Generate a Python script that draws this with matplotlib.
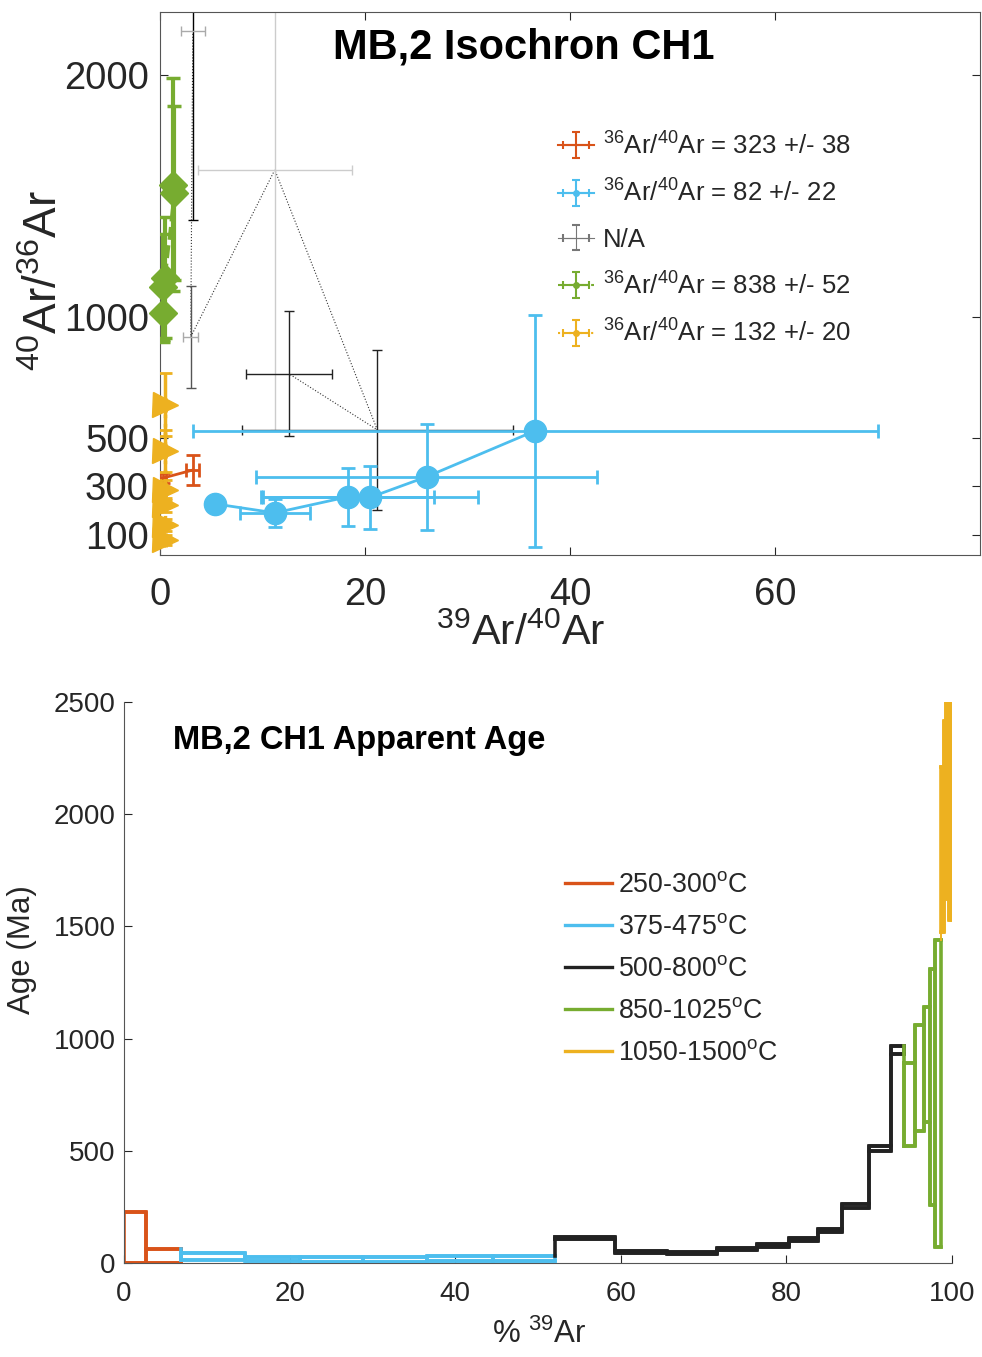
import numpy as np
import matplotlib
matplotlib.use('Agg')
import matplotlib.pyplot as plt
from matplotlib.lines import Line2D
from matplotlib.patches import Rectangle

plt.rcParams['font.family'] = ['Liberation Sans', 'DejaVu Sans']
plt.rcParams['mathtext.fontset'] = 'custom'
plt.rcParams['mathtext.rm'] = 'Liberation Sans'
plt.rcParams['mathtext.it'] = 'Liberation Sans'
plt.rcParams['mathtext.default'] = 'regular'

C_OR = '#D95319'
C_BL = '#4DBEEE'
C_BK = '#000000'
C_GR = '#77AC30'
C_GO = '#EDB120'
AXC = '#262626'

# ---------------- Isochron data (39Ar/40Ar, 40Ar/36Ar) ----------------
or_x = [0.3, 3.2]
or_y = [335, 368]
or_xerr = [0.3, 0.63]
or_yerr = [20, 62]

bl_x = [5.4, 11.2, 18.3, 20.5, 26.0, 36.6]
bl_y = [228, 191, 257, 255, 340, 530]
bl_xerr = [0.4, 3.4, 8.4, 10.5, 16.6, 33.4]
bl_yerr = [15, 58, 120, 130, 220, 480]

bk_x = [3.2, 3.0, 11.2, 21.2, 12.6]
bk_y = [2182, 918, 1608, 534, 765]
bk_xerr = [1.2, 0.75, 7.5, 13.2, 4.2]
bk_yerr = [781, 212, 1074, 330, 258]
bk_vcol = ['#000000', '#555555', '#cccccc', '#222222', '#222222']
bk_hcol = ['#aaaaaa', '#aaaaaa', '#cccccc', '#222222', '#222222']

gr_x = [0.3, 0.3, 0.5, 1.4, 1.3]
gr_y = [1017, 1125, 1162, 1513, 1546]
gr_xerr = [0.1, 0.1, 0.1, 0.15, 0.15]
gr_yerr = [120, 220, 250, 360, 440]

go_x = [0.5, 0.5, 0.5, 0.5, 0.5, 0.5]
go_y = [637, 447, 286, 224, 141, 79]
go_xerr = [0.1, 0.1, 0.1, 0.1, 0.1, 0.1]
go_yerr = [130, 87, 40, 30, 25, 20]

iso_labels = ['$^{36}$Ar/$^{40}$Ar = 323 +/- 38',
              '$^{36}$Ar/$^{40}$Ar = 82 +/- 22',
              'N/A',
              '$^{36}$Ar/$^{40}$Ar = 838 +/- 52',
              '$^{36}$Ar/$^{40}$Ar = 132 +/- 20']

# ---------------- Age spectrum data ----------------
sp_or_edges = [0.0, 2.7, 6.9]
sp_or_lo = [0, 0]
sp_or_hi = [226, 62]

sp_bl_edges = [6.9, 14.6, 21.3, 28.9, 36.6, 44.6, 52.0]
sp_bl_lo = [13, 7, 6, 5, 8, 11]
sp_bl_hi = [45, 28, 27, 26, 29, 32]

sp_bk_edges = [52.0, 59.3, 65.6, 71.6, 76.4, 80.3, 83.8, 86.7, 90.0, 92.6, 94.2]
sp_bk_lo = [108, 46, 41, 57, 72, 98, 137, 245, 498, 931]
sp_bk_hi = [116, 54, 49, 67, 84, 112, 153, 265, 521, 967]

sp_gr_edges = [94.2, 95.5, 96.6, 97.3, 98.0, 98.7]
sp_gr_lo = [520, 590, 630, 260, 70]
sp_gr_hi = [890, 1060, 1140, 1310, 1440]

sp_go_edges = [98.7, 99.0, 99.3, 99.6, 100.0]
sp_go_lo = [1475, 1624, 2063, 1528]
sp_go_hi = [2212, 2414, 2600, 2600]

sp_labels = ['250-300$^{o}$C', '375-475$^{o}$C', '500-800$^{o}$C',
             '850-1025$^{o}$C', '1050-1500$^{o}$C']

fig = plt.figure(figsize=(9.82, 13.57), dpi=100)

# ======================= Top: isochron =======================
ax1 = fig.add_axes([160/982, 1-555/1357, 820/982, 543/1357])

# black (N/A) steps
ax1.plot(bk_x, bk_y, ls=':', color='#333333', lw=0.8, zorder=2)
for x, y, xe, ye, vc, hc in zip(bk_x, bk_y, bk_xerr, bk_yerr, bk_vcol, bk_hcol):
    ax1.errorbar([x], [y], yerr=[ye], fmt='none', ecolor=vc, elinewidth=1.0,
                 capsize=3.5, capthick=1.0, zorder=2)
    ax1.errorbar([x], [y], xerr=[xe], fmt='none', ecolor=hc, elinewidth=1.0,
                 capsize=3.5, capthick=1.0, zorder=2)

# blue
ax1.errorbar(bl_x, bl_y, xerr=bl_xerr, yerr=bl_yerr, color=C_BL, ls='-', lw=2,
             marker='o', ms=16, mec=C_BL, mfc=C_BL, elinewidth=2, capsize=5,
             capthick=2, zorder=3)
# orange
ax1.errorbar(or_x, or_y, xerr=or_xerr, yerr=or_yerr, color=C_OR, ls='-', lw=2,
             elinewidth=2, capsize=5, capthick=2, zorder=4)
# green
ax1.errorbar(gr_x, gr_y, xerr=gr_xerr, yerr=gr_yerr, color=C_GR, ls='--', lw=2.5,
             elinewidth=3, capsize=5, capthick=2.5, zorder=4)
ax1.plot(gr_x, gr_y, ls='none', marker='D', ms=14, color=C_GR, clip_on=False,
         zorder=5)
# gold
ax1.errorbar(go_x, go_y, xerr=go_xerr, yerr=go_yerr, color=C_GO, ls=':', lw=2.5,
             elinewidth=2.5, capsize=5, capthick=2, zorder=4)
ax1.plot(go_x, go_y, ls='none', marker='>', ms=18, color=C_GO, clip_on=False,
         zorder=5)

ax1.set_xlim(0, 80)
ax1.set_ylim(17, 2260)
ax1.set_xticks([0, 20, 40, 60])
ax1.set_yticks([100, 300, 500, 1000, 2000])
ax1.tick_params(direction='in', length=6, width=0.8, top=True, right=True,
                labelsize=27.5, colors=AXC, labelcolor=AXC)
ax1.tick_params(axis='x', pad=16)
ax1.tick_params(axis='y', pad=8)
for s in ax1.spines.values():
    s.set_color('#555555')
    s.set_linewidth(0.8)

ax1.set_xlabel('$^{39}$Ar/$^{40}$Ar', fontsize=31, color=AXC)
ax1.xaxis.set_label_coords(0.44, -0.145)
ax1.xaxis.label.set_va('center')
ax1.set_ylabel('$^{40}$Ar/$^{36}$Ar', fontsize=33, color=AXC)
ax1.yaxis.set_label_coords(-0.14, 0.505)
ax1.yaxis.label.set_va('center')
ax1.text(0.443, 0.934, 'MB,2 Isochron CH1', transform=ax1.transAxes,
         fontsize=30, fontweight='bold', ha='center', va='center', color='black')

# legend proxies
proxies = []
specs = [(C_OR, '-', ''), (C_BL, '-', '.'), ('#777777', '-', ''),
         (C_GR, '--', '.'), (C_GO, ':', '.')]
for col, ls, mk in specs:
    h = ax1.errorbar([np.nan], [np.nan], xerr=[1], yerr=[1], color=col, ls=ls,
                     marker=mk, ms=8, lw=1.5 if col != '#777777' else 0.8,
                     elinewidth=1.5 if col != '#777777' else 0.8,
                     capsize=3, capthick=1.5)
    proxies.append(h)
leg1 = ax1.legend(proxies, iso_labels, loc='upper left',
                  bbox_to_anchor=(0.485, 0.779), frameon=False, fontsize=18.5,
                  handlelength=1.4, handletextpad=0.35, labelspacing=0.8,
                  borderpad=0, borderaxespad=0)
for t in leg1.get_texts():
    t.set_color(AXC)

# ======================= Bottom: age spectrum =======================
ax2 = fig.add_axes([124/982, 1-1263/1357, 828/982, 561/1357])

groups = [(sp_or_edges, sp_or_lo, sp_or_hi, C_OR),
          (sp_bl_edges, sp_bl_lo, sp_bl_hi, C_BL),
          (sp_bk_edges, sp_bk_lo, sp_bk_hi, '#222222'),
          (sp_gr_edges, sp_gr_lo, sp_gr_hi, C_GR),
          (sp_go_edges, sp_go_lo, sp_go_hi, C_GO)]
LW = 2.6
prev_hi = 0
for gi, (edges, lo, hi, col) in enumerate(groups):
    z = 2 + gi
    for i in range(len(lo)):
        ax2.add_patch(Rectangle((edges[i], lo[i]), edges[i+1]-edges[i],
                                hi[i]-lo[i], fill=False, ec=col, lw=LW,
                                zorder=z))
    xs = np.repeat(edges, 2)[1:-1]
    ax2.plot(xs, np.repeat(hi, 2), color=col, lw=LW, zorder=z)
    ax2.plot(xs, np.repeat(lo, 2), color=col, lw=LW, zorder=z)
    if gi > 0:
        ax2.plot([edges[0], edges[0]], [prev_hi, hi[0] if gi == 4 else lo[0]],
                 color=col, lw=LW if gi != 4 else 1.4, zorder=z)
    prev_hi = hi[-1]

ax2.set_xlim(0, 100)
ax2.set_ylim(0, 2500)
ax2.set_xticks([0, 20, 40, 60, 80, 100])
ax2.set_yticks([0, 500, 1000, 1500, 2000, 2500])
ax2.spines['top'].set_visible(False)
ax2.spines['right'].set_visible(False)
for s in ['left', 'bottom']:
    ax2.spines[s].set_color('#555555')
    ax2.spines[s].set_linewidth(0.8)
ax2.tick_params(direction='in', length=6, width=0.8, labelsize=20,
                colors=AXC, labelcolor=AXC)
ax2.tick_params(axis='x', pad=13)
ax2.tick_params(axis='y', pad=6)
ax2.set_xlabel('% $^{39}$Ar', fontsize=22.5, color=AXC)
ax2.xaxis.set_label_coords(0.502, -0.128)
ax2.xaxis.label.set_va('center')
ax2.set_ylabel('Age (Ma)', fontsize=22.5, color=AXC)
ax2.yaxis.set_label_coords(-0.123, 0.558)
ax2.yaxis.label.set_va('center')
ax2.text(0.284, 0.932, 'MB,2 CH1 Apparent Age', transform=ax2.transAxes,
         fontsize=23.5, fontweight='bold', ha='center', va='center', color='black')

sp_handles = [Line2D([0], [0], color=c, lw=2.4) for c in
              [C_OR, C_BL, '#222222', C_GR, C_GO]]
leg2 = ax2.legend(sp_handles, sp_labels, loc='upper left',
                  bbox_to_anchor=(0.533, 0.697), frameon=False, fontsize=19.3,
                  handlelength=1.75, handletextpad=0.2, labelspacing=0.6,
                  borderpad=0, borderaxespad=0)
for t in leg2.get_texts():
    t.set_color(AXC)

fig.savefig('out.png', dpi=100)
